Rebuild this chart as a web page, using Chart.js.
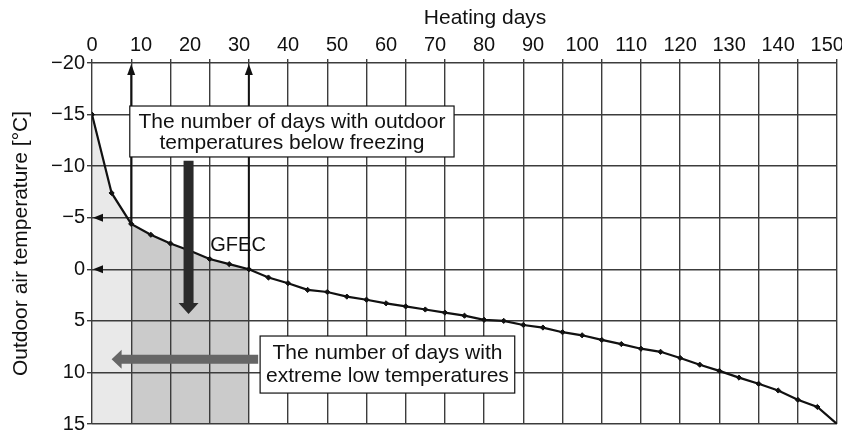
<!DOCTYPE html>
<html>
<head>
<meta charset="utf-8">
<title>Heating days vs outdoor air temperature</title>
<script src="https://cdn.jsdelivr.net/npm/chart.js@4.4.1/dist/chart.umd.min.js"></script>
<style>
  html, body { margin: 0; padding: 0; background: #fff; }
  #wrap { width: 842px; height: 430px; position: relative; }
</style>
</head>
<body>
<div id="wrap"><canvas id="gfecChart"></canvas></div>
<script>
// --- Data ---
const heatingDays = [0, 4, 8, 12, 16, 20, 24, 28, 32, 36, 40, 44, 48, 52, 56, 60, 64, 68,
  72, 76, 80, 84, 88, 92, 96, 100, 104, 108, 112, 116, 120, 124, 128, 132, 136, 140, 144, 148, 152];
const airTemps = [-15, -7.4, -4.4, -3.35, -2.5, -1.8, -1.0, -0.5, 0, 0.8, 1.35, 2.0, 2.2, 2.65, 2.95, 3.3, 3.6, 3.9,
  4.2, 4.5, 4.9, 5.0, 5.4, 5.65, 6.1, 6.4, 6.85, 7.25, 7.7, 8.0, 8.6, 9.25, 9.85, 10.5, 11.1, 11.75, 12.65, 13.35, 15];
const dayTicks = [0, 10, 20, 30, 40, 50, 60, 70, 80, 90, 100, 110, 120, 130, 140, 150];
const tempTicks = [-20, -15, -10, -5, 0, 5, 10, 15];

const extremeEnd = 8;   // days below -5 °C
const freezeEnd = 32;   // days below 0 °C

const FONT = "'Liberation Sans', Arial, Helvetica, sans-serif";
const INK = '#111';
const GRID = '#3c3c3c';

const idxExtreme = heatingDays.indexOf(extremeEnd);
const idxFreeze = heatingDays.indexOf(freezeEnd);
const pts = (a, b) => heatingDays.slice(a, b + 1).map((d, i) => ({ x: d, y: airTemps[a + i] }));

// fixed axis sizes, no extra label padding
const fixSize = (w, h) => s => {
  if (w !== null) s.width = w;
  if (h !== null) s.height = h;
  s.paddingLeft = s.paddingRight = s.paddingTop = s.paddingBottom = 0;
};

// --- Annotations (boxes, arrows, labels) ---
function arrow(ctx, x0, y0, x1, y1, shaft, head, headLen, color) {
  const ang = Math.atan2(y1 - y0, x1 - x0);
  const len = Math.hypot(x1 - x0, y1 - y0);
  ctx.save();
  ctx.translate(x0, y0);
  ctx.rotate(ang);
  ctx.fillStyle = color;
  ctx.beginPath();
  ctx.moveTo(0, -shaft / 2);
  ctx.lineTo(len - headLen, -shaft / 2);
  ctx.lineTo(len - headLen, -head / 2);
  ctx.lineTo(len, 0);
  ctx.lineTo(len - headLen, head / 2);
  ctx.lineTo(len - headLen, shaft / 2);
  ctx.lineTo(0, shaft / 2);
  ctx.closePath();
  ctx.fill();
  ctx.restore();
}

function textBox(ctx, x0, y0, x1, y1, lines, baselines) {
  ctx.fillStyle = '#fff';
  ctx.fillRect(x0, y0, x1 - x0, y1 - y0);
  ctx.strokeStyle = INK;
  ctx.lineWidth = 1.2;
  ctx.strokeRect(x0, y0, x1 - x0, y1 - y0);
  ctx.fillStyle = INK;
  ctx.font = '21px ' + FONT;
  ctx.textAlign = 'center';
  ctx.textBaseline = 'alphabetic';
  lines.forEach((t, i) => ctx.fillText(t, (x0 + x1) / 2, y0 + baselines[i]));
}

const annotations = {
  id: 'annotations',
  afterDatasetsDraw(chart) {
    const { ctx } = chart;
    const x = chart.scales.x, y = chart.scales.y;
    const px = d => x.getPixelForValue(d);
    const py = t => y.getPixelForValue(t);
    ctx.save();

    // guide lines from the curve up to the day axis
    [idxExtreme, idxFreeze].forEach(i => {
      const gx = px(heatingDays[i]);
      ctx.strokeStyle = INK;
      ctx.lineWidth = 2;
      ctx.beginPath();
      ctx.moveTo(gx, py(airTemps[i]));
      ctx.lineTo(gx, py(-20) + 8);
      ctx.stroke();
      arrow(ctx, gx, py(-20) + 12, gx, py(-20) + 1, 0, 8, 11, INK);
    });
    // arrowheads on the -5 and 0 °C lines
    [-5, 0].forEach(t => {
      arrow(ctx, px(0) + 11, py(t), px(0) + 1, py(t), 0, 8, 10, INK);
    });

    // gray arrow: days with extreme low temperatures
    arrow(ctx, px(33.9), py(8.73), px(4.0), py(8.73), 9, 19, 10, '#666');
    // dark arrow: days below freezing
    arrow(ctx, px(19.7), py(-10.53), px(19.7), py(4.34), 10, 20, 11, '#2a2a2a');

    textBox(ctx, px(7.71), py(-15.83), px(73.87), py(-10.89),
      ['The number of days with outdoor', 'temperatures below freezing'], [21.5, 42.5]);
    textBox(ctx, px(34.3), py(6.47), px(86.25), py(12.0),
      ['The number of days with', 'extreme low temperatures'], [23, 46]);

    ctx.fillStyle = INK;
    ctx.font = '20px ' + FONT;
    ctx.textAlign = 'center';
    ctx.textBaseline = 'middle';
    ctx.fillText('GFEC', px(29.8), py(-2.3));

    ctx.font = '21px ' + FONT;
    ctx.fillText('Heating days', px(80.2), 18);
    ctx.restore();
  }
};

// --- Chart ---
const ctx = document.getElementById('gfecChart').getContext('2d');
new Chart(ctx, {
  type: 'line',
  data: {
    datasets: [
      {
        label: 'GFEC',
        data: heatingDays.map((d, i) => ({ x: d, y: airTemps[i] })),
        borderColor: INK,
        borderWidth: 2.2,
        pointStyle: 'rectRot',
        pointRadius: heatingDays.map((d, i) => (i === heatingDays.length - 1 ? 0 : 2.6)),
        pointBackgroundColor: INK,
        pointBorderColor: INK,
        pointBorderWidth: 1,
        fill: false,
        tension: 0
      },
      {
        label: 'extreme low',
        data: pts(0, idxExtreme),
        borderWidth: 0,
        pointRadius: 0,
        backgroundColor: '#e9e9e9',
        fill: { value: 15 }
      },
      {
        label: 'below freezing',
        data: pts(idxExtreme, idxFreeze),
        borderWidth: 0,
        pointRadius: 0,
        backgroundColor: '#cbcbcb',
        fill: { value: 15 }
      }
    ]
  },
  options: {
    responsive: true,
    maintainAspectRatio: false,
    animation: false,
    layout: { padding: { top: 0, right: 1, bottom: 6, left: 0 } },
    plugins: {
      legend: { display: false },
      tooltip: { enabled: false },
      filler: { drawTime: 'beforeDraw' }
    },
    scales: {
      x: {
        type: 'linear',
        position: 'top',
        min: 0,
        max: 152,
        weight: 1,
        afterBuildTicks: s => { s.ticks = dayTicks.map(v => ({ value: v })); },
        afterFit: fixSize(null, 59),
        grid: { display: false, drawTicks: false },
        border: { display: false },
        ticks: { font: { family: FONT, size: 20 }, color: INK, padding: 2, maxRotation: 0, autoSkip: false }
      },
      xg: {
        type: 'linear',
        position: 'top',
        min: 0,
        max: 152,
        weight: 0,
        afterFit: fixSize(null, 4),
        ticks: { display: false, stepSize: 8 },
        grid: { color: GRID, lineWidth: 1.4, tickLength: 4 },
        border: { display: false }
      },
      y: {
        type: 'linear',
        reverse: true,
        min: -20,
        max: 15,
        afterBuildTicks: s => { s.ticks = tempTicks.map(v => ({ value: v })); },
        afterFit: fixSize(92, null),
        grid: { color: GRID, lineWidth: 1.4, tickLength: 5 },
        border: { display: false },
        ticks: {
          font: { family: FONT, size: 20 },
          color: INK,
          padding: 2,
          callback: v => String(v).replace('-', '\u2212')
        },
        title: {
          display: true,
          text: 'Outdoor air temperature [\u00b0C]',
          font: { family: FONT, size: 21 },
          color: INK,
          padding: { top: 9, bottom: 0 }
        }
      }
    }
  },
  plugins: [annotations]
});
</script>
</body>
</html>
